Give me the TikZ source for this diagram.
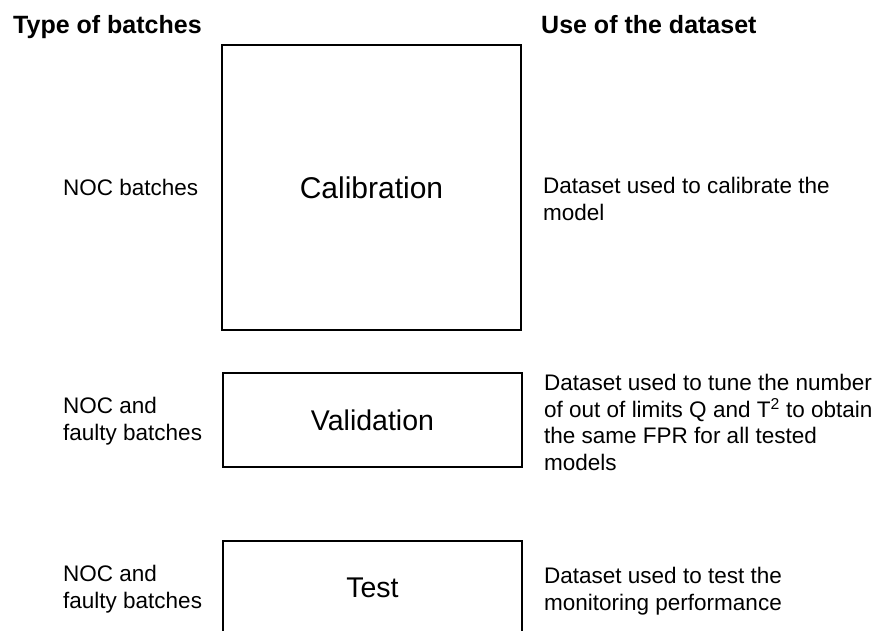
\documentclass[tikz,border=0pt]{standalone}
\usepackage{fontspec}
\setmainfont{Liberation Sans}
\begin{document}
\begin{tikzpicture}[x=1pt,y=-1pt,
  head/.style={font=\fontsize{25}{30}\selectfont\bfseries, inner sep=0pt, anchor=base west},
  % multi-line nodes: the base anchor sits on the last line's baseline
  body/.style={font=\fontsize{22.5}{26.5}\selectfont, inner sep=0pt, anchor=base west, align=left},
  setbox/.style={draw=black, line width=2pt, minimum width=299pt, inner sep=0pt},
]
\useasboundingbox (0,0) rectangle (878,630);
\fill[white] (0,0) rectangle (878,630);
\clip (0,0) rectangle (878,630);

% column headings
\node[head] (hleft)  at (13,33)  {Type of batches};
\node[head] (hright) at (541,33) {Use of the dataset};

% dataset boxes
\node[setbox, minimum height=285pt, font=\fontsize{30}{36}\selectfont]   (cal)  at (371.5,187.5) {Calibration};
\node[setbox, minimum height=94pt,  font=\fontsize{28.5}{34}\selectfont] (val)  at (372.5,420)   {Validation};
\node[setbox, minimum height=94pt,  font=\fontsize{28.5}{34}\selectfont] (test) at (372.5,588)   {Test};

% batch types
\node[body] (tcal)  at (63,195) {NOC batches};
\node[body] (tval)  at (63,440) {NOC and\\faulty batches};
\node[body] (ttest) at (63,608) {NOC and\\faulty batches};

% dataset uses
\node[body] (ucal)  at (543,220) {Dataset used to calibrate the\\model};
\node[body] (uval)  at (544,470) {Dataset used to tune the number\\of out of limits Q and T\textsuperscript{2} to obtain\\the same FPR for all tested\\models};
\node[body] (utest) at (544,610) {Dataset used to test the\\monitoring performance};
\end{tikzpicture}
\end{document}
